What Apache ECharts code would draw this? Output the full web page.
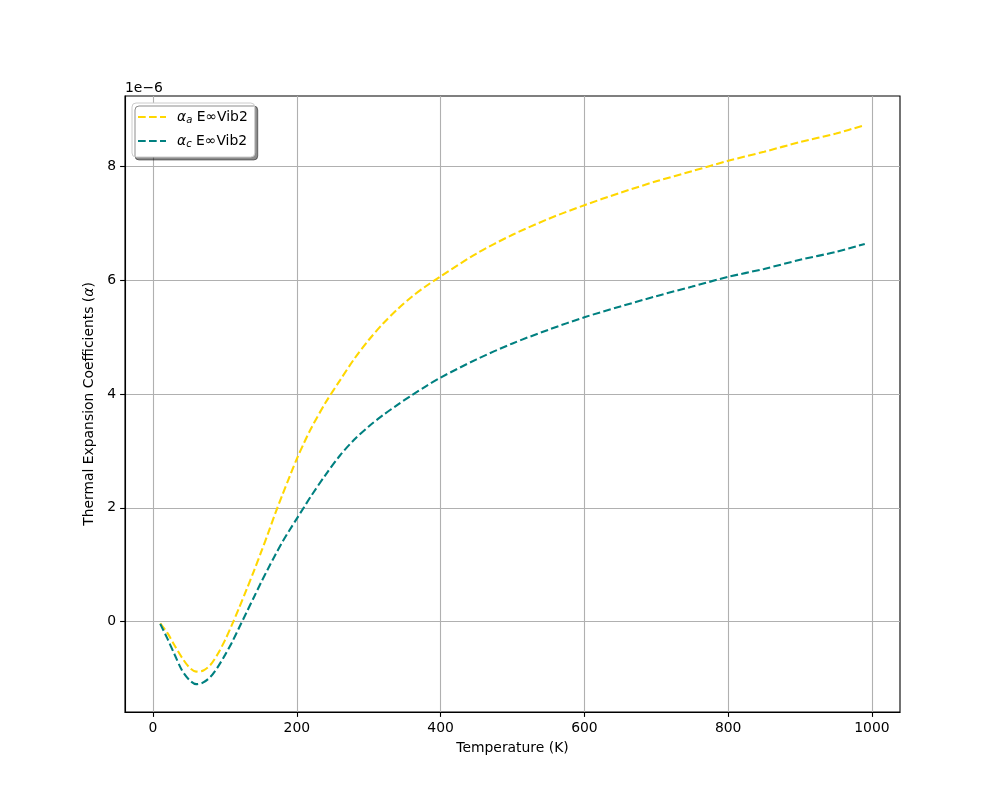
<!DOCTYPE html>
<html>
<head>
<meta charset="utf-8">
<script src="https://cdn.jsdelivr.net/npm/echarts@6/dist/echarts.min.js"></script>
<style>
html,body{margin:0;padding:0;background:#fff;}
#chart{width:1000px;height:800px;}
</style>
</head>
<body>
<div id="chart"></div>
<script>
// Temperature (K)
const temperatures = [10,20,30,40,50,60,70,80,90,100,110,120,130,140,150,160,170,180,190,200,210,220,240,260,280,300,320,340,360,380,400,450,500,550,600,650,700,750,800,850,900,950,990];
// alpha_a, in units of 1e-6
const alphaA = [-0.03,-0.20,-0.42,-0.63,-0.80,-0.88,-0.86,-0.76,-0.57,-0.33,-0.05,0.25,0.56,0.88,1.21,1.55,1.90,2.23,2.55,2.86,3.14,3.40,3.85,4.24,4.62,4.95,5.24,5.49,5.71,5.90,6.07,6.47,6.80,7.08,7.32,7.54,7.74,7.92,8.10,8.26,8.43,8.58,8.73];
// alpha_c, in units of 1e-6
const alphaC = [-0.04,-0.30,-0.58,-0.85,-1.02,-1.10,-1.07,-0.97,-0.80,-0.59,-0.36,-0.10,0.16,0.42,0.68,0.93,1.17,1.40,1.61,1.81,2.01,2.21,2.58,2.92,3.20,3.43,3.63,3.81,3.98,4.14,4.29,4.61,4.89,5.13,5.35,5.54,5.72,5.89,6.06,6.20,6.36,6.50,6.64];
const xTicks = [0,200,400,600,800,1000];
const yTicks = [0,2,4,6,8];
const seriesNames = ['αa E∞Vib2','αc E∞Vib2'];
const legendLabels = {'αa E∞Vib2': ['α','a',' E∞Vib2'], 'αc E∞Vib2': ['α','c',' E∞Vib2']};

const FONT = 'DejaVu Sans';
const FS = 13.9;
const chart = echarts.init(document.getElementById('chart'), null, {renderer:'canvas'});
const pairs = vals => temperatures.map((t,i)=>[t, vals[i]]);

const option = {
  backgroundColor:'#fff',
  animation:false,
  textStyle:{fontFamily:FONT},
  grid:{left:125, top:96, width:775, height:616, show:true, borderColor:'#000', borderWidth:1.1, backgroundColor:'transparent'},
  xAxis:{
    type:'value', min:-39, max:1039,
    name:'Temperature (K)', nameLocation:'middle', nameGap:29,
    nameTextStyle:{color:'#000', fontSize:FS, fontFamily:FONT},
    axisLine:{show:true, onZero:false, lineStyle:{color:'#000', width:1.1}},
    axisTick:{show:true, length:4.9, inside:false, customValues:xTicks, lineStyle:{color:'#000', width:1.1}},
    axisLabel:{show:true, customValues:xTicks, color:'#000', fontSize:FS, fontFamily:FONT, margin:9, formatter:v=>String(v)},
    splitLine:{show:true, lineStyle:{color:'#b0b0b0', width:1.1}}
  },
  yAxis:{
    type:'value', min:-1.59, max:9.24,
    name:'Thermal Expansion Coefficients ({it|α})', nameLocation:'middle', nameGap:26, nameRotate:90,
    nameTextStyle:{color:'#000', fontSize:FS, fontFamily:FONT, rich:{it:{fontStyle:'italic', fontSize:FS, fontFamily:FONT, color:'#000'}}},
    axisLine:{show:true, onZero:false, lineStyle:{color:'#000', width:1.1}},
    axisTick:{show:true, length:4.9, customValues:yTicks, lineStyle:{color:'#000', width:1.1}},
    axisLabel:{show:true, customValues:yTicks, color:'#000', fontSize:FS, fontFamily:FONT, margin:9, formatter:v=>String(v)},
    splitLine:{show:true, lineStyle:{color:'#b0b0b0', width:1.1}}
  },
  legend:{
    orient:'vertical', left:132, top:103,
    data:seriesNames,
    itemWidth:28, itemHeight:12, itemGap:9,
    padding:[7,7,8,5],
    backgroundColor:'#ffffff',
    borderColor:'#cccccc', borderWidth:1, borderRadius:4,
    shadowColor:'rgba(0,0,0,0.45)', shadowBlur:0, shadowOffsetX:3, shadowOffsetY:3,
    itemStyle:{opacity:0},
    lineStyle:{opacity:1},
    textStyle:{color:'#000', fontSize:FS, fontFamily:FONT,
      rich:{
        g:{fontStyle:'italic', fontSize:FS, fontFamily:FONT, color:'#000', padding:[0,0,0,6]},
        s:{fontStyle:'italic', fontSize:10, fontFamily:FONT, color:'#000', padding:[6,0,0,0]},
        t:{fontSize:FS, fontFamily:FONT, color:'#000'}
      }},
    formatter: function(name){
      const p = legendLabels[name];
      return '{g|'+p[0]+'}{s|'+p[1]+'}{t|'+p[2]+'}';
    }
  },
  graphic:[{
    type:'text', left:125, top:81,
    style:{text:'1e\u22126', fill:'#000', font:FS+'px "DejaVu Sans"'}
  }],
  series:[
    {name:seriesNames[0], type:'line', data:pairs(alphaA), smooth:0.3, symbol:'none', showSymbol:false,
     lineStyle:{color:'#FFD700', width:2.08, type:[7.7,3.3]}, itemStyle:{color:'#FFD700'}, z:3},
    {name:seriesNames[1], type:'line', data:pairs(alphaC), smooth:0.3, symbol:'none', showSymbol:false,
     lineStyle:{color:'#008080', width:2.08, type:[7.7,3.3]}, itemStyle:{color:'#008080'}, z:3}
  ]
};
chart.setOption(option);
</script>
</body>
</html>
